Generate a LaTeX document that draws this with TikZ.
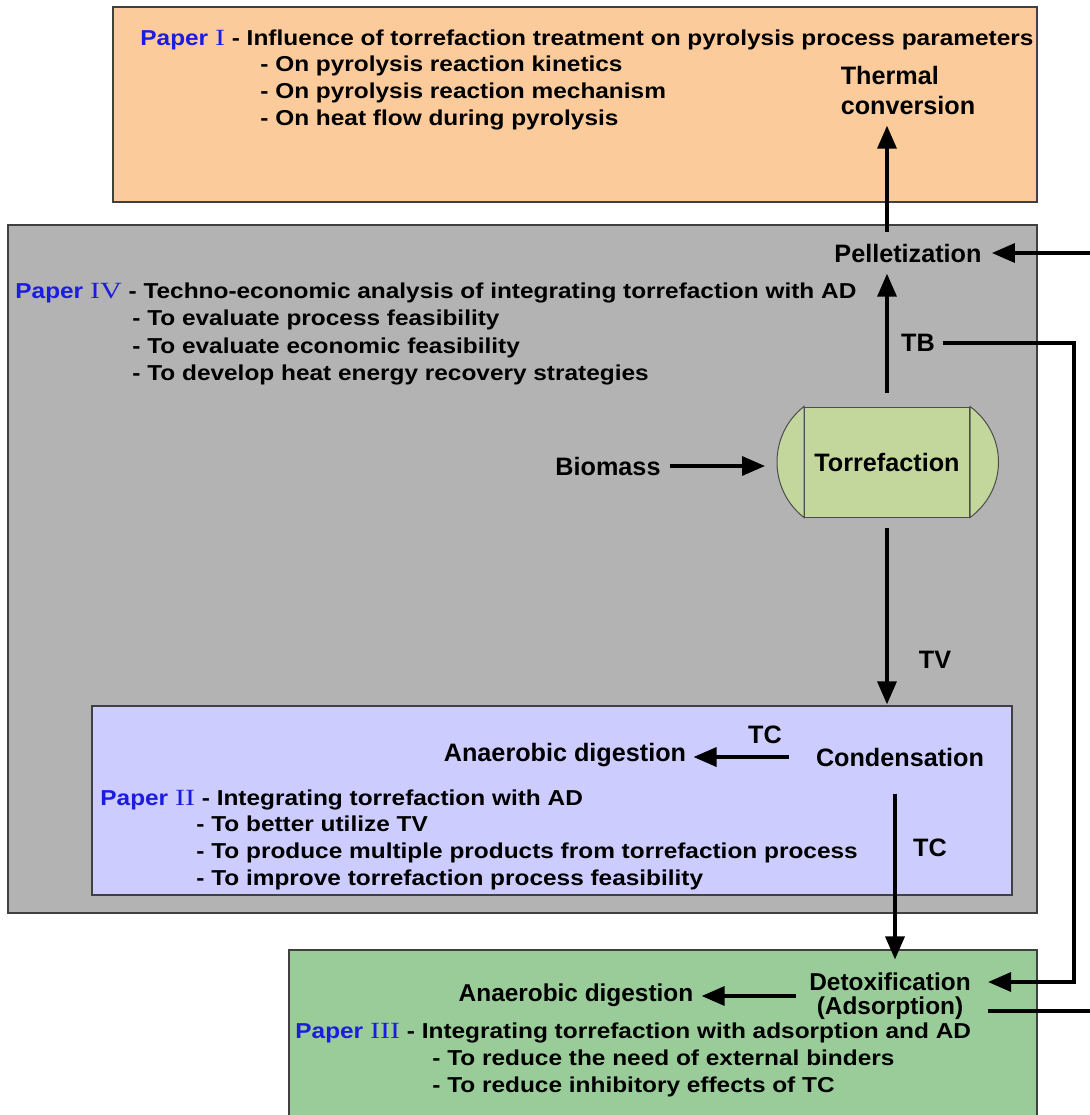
\documentclass[tikz,border=0pt]{standalone}
\usepackage{fontspec}
\setmainfont{Liberation Sans}
\newfontfamily\numfont{Liberation Serif}[FakeStretch=1.3]
\newfontfamily\papersf{Liberation Sans}[FakeStretch=1.13]
\usepackage{xcolor}
\usepackage{tikz}
\usetikzlibrary{calc}
\usetikzlibrary{arrows.meta, positioning}

\definecolor{orangebg}{HTML}{FBCB9B}
\definecolor{graybg}{HTML}{B3B3B3}
\definecolor{bluebg}{HTML}{CCCCFF}
\definecolor{greenbg}{HTML}{99CC99}
\definecolor{drumgreen}{HTML}{C3D69B}
\definecolor{paperblue}{HTML}{1C1CE0}

\newcommand{\paperno}[1]{\textcolor{paperblue}{Paper {\numfont\mdseries\fontsize{11.6}{13}\selectfont #1}}}

\begin{document}
\begin{tikzpicture}[x=0.5pt, y=-0.5pt,
  proc/.style={font=\bfseries\fontsize{12.6}{15}\selectfont, inner sep=0pt},
  head/.style={font=\papersf\bfseries\fontsize{10.8}{13}\selectfont, inner sep=0pt, anchor=base west},
  drum/.style={minimum width=82.5pt, minimum height=55pt, fill=drumgreen, draw=black!70, line width=0.5pt},
  flow/.style={line width=1.7pt, -{Triangle[length=11.5pt,width=9.5pt]}},
  link/.style={line width=1.7pt},
  panel/.style={draw=black!75, line width=0.6pt}]

  \useasboundingbox (0,0) rectangle (1090,1115);

  % panels
  \draw[panel, fill=orangebg] (113,7) rectangle (1037,202);
  \draw[panel, fill=graybg]   (8,225) rectangle (1037,913);
  \draw[panel, fill=bluebg]   (92,706) rectangle (1012,895);
  \draw[panel, fill=greenbg]  (289,950) rectangle (1037,1130);

  % Paper I
  \node[head] (p1) at (140,45) {\paperno{I} - Influence of torrefaction treatment on pyrolysis process parameters};
  \foreach \txt [count=\k] in {On pyrolysis reaction kinetics, On pyrolysis reaction mechanism, On heat flow during pyrolysis}
    \node[head] (p1i\k) at (260,{45+26.7*\k}) {- \txt};

  % Paper IV
  \node[head] (p4) at (15,298) {\paperno{IV} - Techno-economic analysis of integrating torrefaction with AD};
  \foreach \txt [count=\k] in {To evaluate process feasibility, To evaluate economic feasibility, To develop heat energy recovery strategies}
    \node[head] (p4i\k) at (132,{298+27.5*\k}) {- \txt};

  % Paper II
  \node[head] (p2) at (100,805) {\paperno{II} - Integrating torrefaction with AD};
  \foreach \txt [count=\k] in {To better utilize TV, To produce multiple products from torrefaction process, To improve torrefaction process feasibility}
    \node[head] (p2i\k) at (196,{804+27*\k}) {- \txt};

  % Paper III
  \node[head] (p3) at (295,1038) {\paperno{III} - Integrating torrefaction with adsorption and AD};
  \foreach \txt [count=\k] in {To reduce the need of external binders, To reduce inhibitory effects of TC}
    \node[head] (p3i\k) at (432,{1038+27*\k}) {- \txt};

  % process steps
  \node[proc, align=left] (thermal) at (908,90) {Thermal\\conversion};
  \node[proc] (pell)    at (908,253) {Pelletization};
  \node[proc] (tb)      at (918,343) {TB};
  \node[proc] (biomass) at (608,466) {Biomass};
  \node[proc, drum] (torr) at (887,462) {Torrefaction};
  \draw[fill=drumgreen, draw=black!70, line width=0.5pt] (torr.north west) .. controls +(-36,28) and +(-36,-28) .. (torr.south west) -- cycle;
  \draw[fill=drumgreen, draw=black!70, line width=0.5pt] (torr.north east) .. controls +(38,28) and +(38,-28) .. (torr.south east) -- cycle;
  \node[proc] (tv)      at (935,660) {TV};
  \node[proc] (cond)    at (900,757) {Condensation};
  \node[proc] (ad2)     at (565,755) {Anaerobic digestion};
  \node[proc] (tc1)     at (765,735) {TC};
  \node[proc] (tc2)     at (930,848) {TC};
  \node[proc, align=center, font=\bfseries\fontsize{12.2}{11.8}\selectfont] (detox) at (890,996) {Detoxification\\(Adsorption)};
  \node[proc, font=\bfseries\fontsize{12.2}{15}\selectfont] (ad3) at (576,995) {Anaerobic digestion};

  \coordinate (rimR)  at (1090,0);
  \coordinate (loopx) at (1074,0);

  % connectors
  \draw[flow, shorten <=4.5pt, shorten >=19.5pt] (biomass) -- (biomass -| torr.west);
  \draw[flow, shorten <=7pt, shorten >=5.5pt] (torr.north) -- (torr.north |- pell.south);
  \draw[flow, shorten <=5.5pt, shorten >=5.5pt] (torr.north |- pell.north) -- (torr.north |- thermal.south);
  \draw[flow, shorten >=5pt] (pell.east -| rimR) -- (pell.east);
  \draw[flow, shorten <=4pt, shorten >=8.5pt] (tb.east) -- (tb.east -| loopx) |- ([yshift=7pt]detox.east);
  \draw[flow, shorten <=5pt, shorten >=21.5pt] (torr.south) -- (torr.south |- cond.north);
  \draw[flow, shorten <=13.5pt, shorten >=3.5pt] (cond.west) -- (cond.west -| ad2.east);
  \draw[flow, shorten <=13.5pt, shorten >=6.5pt] ([xshift=-2.5pt]cond.south) -- ([xshift=-2.5pt]cond.south |- detox.north);
  \draw[flow, shorten <=6.5pt, shorten >=4pt] (detox.west) -- (detox.west -| ad3.east);
  \draw[link, shorten <=8.5pt] ([yshift=-7.5pt]detox.east) -- ([yshift=-7.5pt]detox.east -| rimR);
\end{tikzpicture}
\end{document}
